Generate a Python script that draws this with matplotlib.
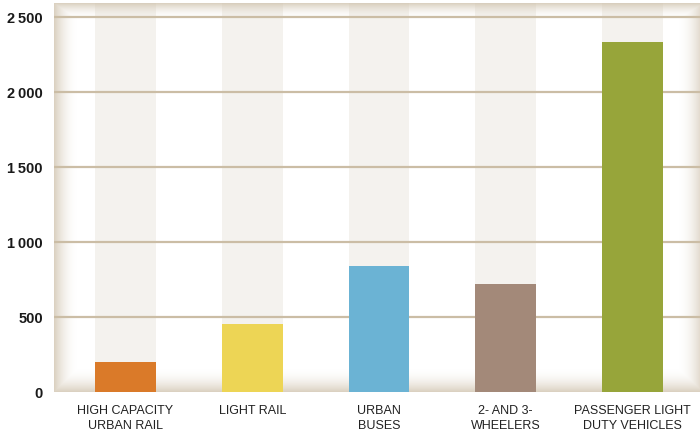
import matplotlib
matplotlib.use("Agg")
from matplotlib import pyplot as plt
import numpy as np

# data
categories = ["HIGH CAPACITY\nURBAN RAIL", "LIGHT RAIL", "URBAN\nBUSES",
              "2- AND 3-\nWHEELERS", "PASSENGER LIGHT\nDUTY VEHICLES"]
values = [200, 450, 840, 720, 2330]
bar_colors = ["#da7a29", "#edd555", "#6bb3d4", "#a38979", "#97a53a"]
y_ticks = [0, 500, 1000, 1500, 2000, 2500]
y_labels = ["0", "500", "1\u2009000", "1\u2009500", "2\u2009000", "2\u2009500"]

fig = plt.figure(figsize=(7, 4.35), dpi=100)
ax = fig.add_axes([54 / 700, 42 / 435, 646 / 700, 389 / 435])
ax.set_facecolor("white")

x = np.arange(len(categories))
width = 0.48

# light background stripes behind each bar
ax.bar(x, [2700] * len(x), width=width, color="#f4f2ee", zorder=1)

# edge shading of the plot panel
h, w = 389, 646
yy, xx = np.mgrid[0:h, 0:w]
fade = lambda d, r: np.clip(1 - d / r, 0, 1) ** 2
alpha = np.maximum.reduce([fade(xx, 24) * 0.8, fade(w - 1 - xx, 22) * 0.6,
                           fade(h - 1 - yy, 24) * 0.8, fade(yy, 16) * 0.8])
rgba = np.zeros((h, w, 4))
rgba[..., 0] = 0xd2 / 255
rgba[..., 1] = 0xc6 / 255
rgba[..., 2] = 0xb2 / 255
rgba[..., 3] = alpha
ax.imshow(rgba, extent=(0, 1, 0, 1), transform=ax.transAxes, aspect="auto",
          zorder=2, interpolation="bilinear")

# gridlines
for t in y_ticks[1:]:
    ax.axhline(t, color="#cbbda5", lw=1.6, zorder=3)

ax.bar(x, values, width=width, color=bar_colors, zorder=4)

ax.set_xlim(-0.564, 4.533)
ax.set_ylim(-2, 2590)
ax.set_yticks(y_ticks)
ax.set_yticklabels(y_labels, fontsize=10.5, fontweight="bold", color="#1a1a1a",
                   family=["Liberation Sans", "DejaVu Sans"])
ax.set_xticks(x)
ax.set_xticklabels(categories, fontsize=9, color="#222222",
                   family=["Liberation Sans", "DejaVu Sans"],
                   linespacing=1.3)
ax.tick_params(axis="both", length=0)
ax.tick_params(axis="y", pad=8)
ax.tick_params(axis="x", pad=9)
for s in ax.spines.values():
    s.set_visible(False)

fig.savefig("out.png", dpi=100)
